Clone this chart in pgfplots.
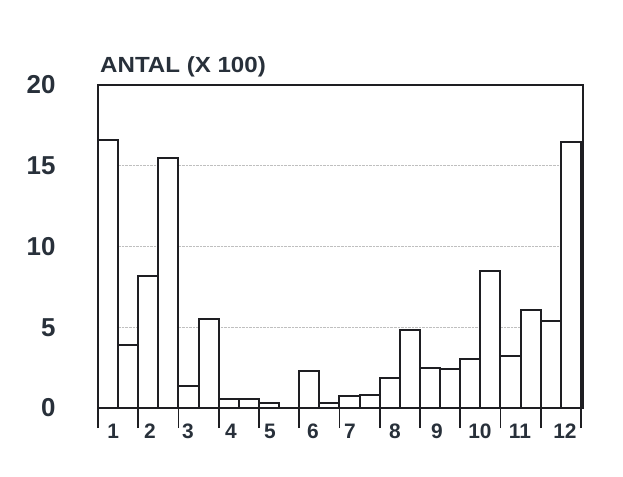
\documentclass[border=0pt]{standalone}
\usepackage{pgfplots}
\pgfplotsset{compat=1.18}
\usepackage{fontspec}
\setmainfont{Liberation Sans}
\definecolor{ink}{RGB}{40,48,58}
\definecolor{edge}{RGB}{30,30,34}
\begin{document}
\begin{tikzpicture}
\path (0,0) rectangle (623bp,477bp);
\begin{axis}[
  at={(98bp,69bp)}, anchor=south west,
  scale only axis, width=485bp, height=323bp,
  xmin=0, xmax=24.1, ymin=0, ymax=20,
  axis line style={line width=2bp, draw=edge},
  ytick={0,5,10,15,20}, ytick style={draw=none},
  yticklabel style={font=\fontsize{26}{26}\selectfont\bfseries, text=ink, xshift=-19bp},
  /pgf/number format/assume math mode=true,
  ymajorgrids, grid style={densely dotted, gray!50, line width=0.8bp},
  xtick={0,2,...,24}, xticklabels={},
  xtick pos=bottom, ytick pos=left,
  tick align=outside, major tick length=20bp,
  xtick style={line width=1.8bp, draw=edge},
  extra x ticks={0.75,2.58,4.47,6.61,8.55,10.68,12.52,14.76,16.84,18.98,20.97,23.2},
  extra x tick labels={1,2,3,4,5,6,7,8,9,10,11,12},
  extra x tick style={major tick length=0pt, grid=none,
    tick label style={anchor=base, yshift=-30bp, font=\fontsize{21}{21}\selectfont\bfseries, text=ink}},
  clip=false,
]
\addplot[ybar, bar width=1, fill=white, draw=edge, line width=2bp] coordinates {
(0.5,16.6) (1.5,3.9)
(2.5,8.2) (3.5,15.5)
(4.5,1.35) (5.5,5.5)
(6.5,0.55) (7.5,0.55)
(8.5,0.3) (9.5,0)
(10.5,2.3) (11.5,0.3)
(12.5,0.75) (13.5,0.8)
(14.5,1.85) (15.5,4.85)
(16.5,2.5) (17.5,2.4)
(18.5,3.05) (19.5,8.5)
(20.5,3.2) (21.5,6.05)
(22.5,5.4) (23.5,16.5)
};
\node[anchor=base west, inner sep=0pt, text=ink, font=\fontsize{22}{22}\selectfont\bfseries] at ([xshift=2bp, yshift=12bp]rel axis cs:0,1) {\scalebox{1.1}[1]{ANTAL (X 100)}};
\end{axis}
\end{tikzpicture}
\end{document}
